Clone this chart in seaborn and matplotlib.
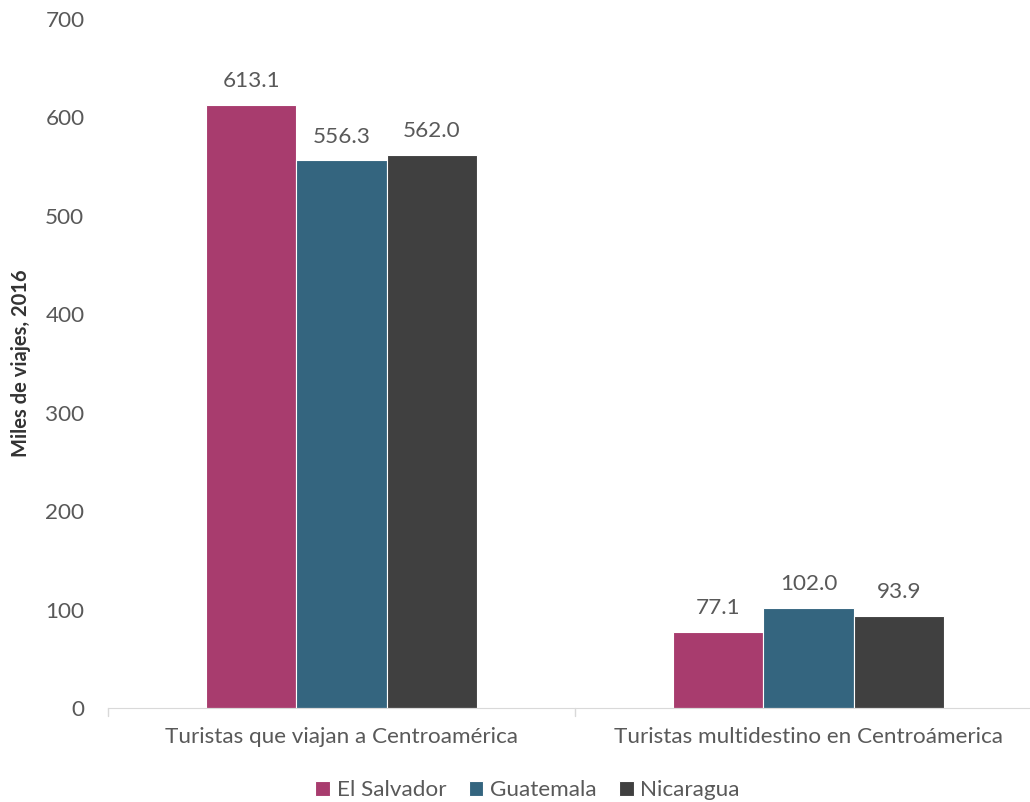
import numpy as np
import pandas as pd
import matplotlib
matplotlib.use("Agg")
import matplotlib.pyplot as plt
import seaborn as sns

categorias = ["Turistas que viajan a Centroamérica", "Turistas multidestino en Centroámerica"]
paises = ["El Salvador", "Guatemala", "Nicaragua"]
el_salvador = [613.1, 77.1]
guatemala = [556.3, 102.0]
nicaragua = [562.0, 93.9]
colores = ["#A83C6E", "#34657F", "#404040"]

df = pd.DataFrame({
    "categoria": categorias * 3,
    "pais": [p for p in paises for _ in categorias],
    "valor": el_salvador + guatemala + nicaragua,
})

sns.set_style("white")
plt.rcParams["font.family"] = ["Lato", "DejaVu Sans"]
gris = "#595959"
fs = 16.2

fig = plt.figure(figsize=(10.3, 8.02), dpi=100)
ax = fig.add_axes([108 / 1030, 1 - 708 / 802, 1 - 108 / 1030, (708 - 19) / 802])

sns.barplot(data=df, x="categoria", y="valor", hue="pais", palette=colores,
            saturation=1, width=0.58, edgecolor="white", linewidth=0.8, ax=ax)

for cont in ax.containers:
    ax.bar_label(cont, fmt="%.1f", padding=10, fontsize=fs, color=gris)

ax.set_ylim(0, 700)
ax.set_yticks(range(0, 701, 100))
ax.set_xlim(-0.5, 1.5 - 12 / 467)
ax.set_xlabel("")
ax.set_ylabel("Miles de viajes, 2016", fontsize=14.5, fontweight="bold", color="#333333")
ax.yaxis.set_label_coords(-0.083, 0.5)
ax.tick_params(axis="both", labelsize=fs, colors=gris, length=0)
ax.tick_params(axis="x", pad=14)
ax.tick_params(axis="y", pad=17)
for s in ["top", "right", "left"]:
    ax.spines[s].set_visible(False)
ax.spines["bottom"].set_color("#D9D9D9")
ax.axvline(0.5, ymin=-0.012, ymax=0, color="#D9D9D9", lw=1, clip_on=False)
ax.axvline(-0.5, ymin=-0.012, ymax=0, color="#D9D9D9", lw=1, clip_on=False)

ax.legend(loc="lower center", bbox_to_anchor=(0.455, -0.163), ncol=3, frameon=False,
          fontsize=fs, handlelength=0.65, handleheight=0.65, handletextpad=0.3,
          columnspacing=1.0, labelcolor=gris)

fig.savefig("out.png", dpi=100)
